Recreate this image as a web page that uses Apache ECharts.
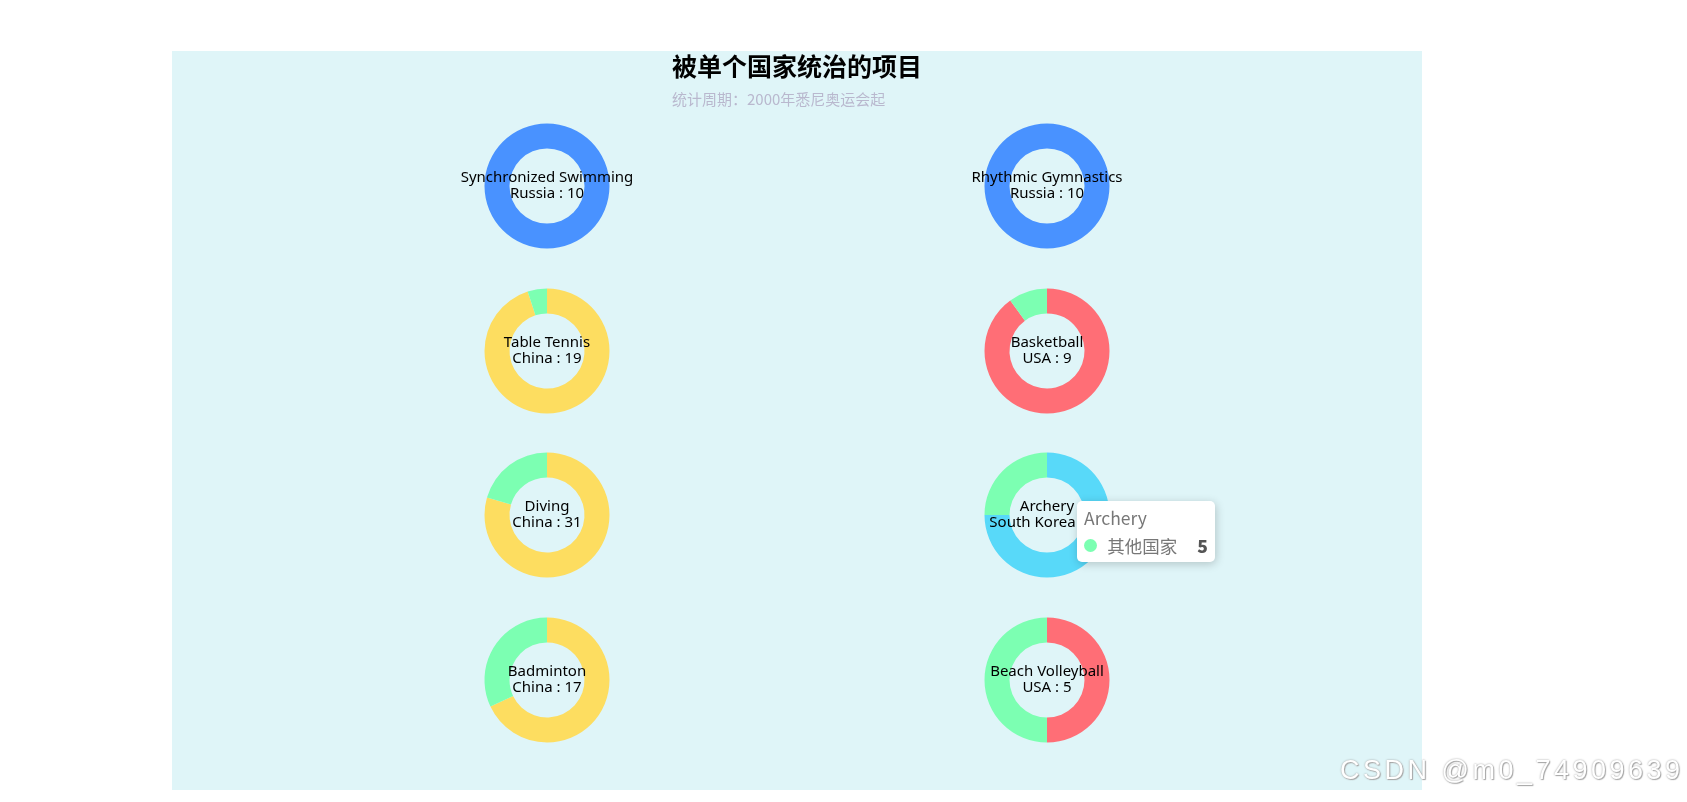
<!DOCTYPE html>
<html>
<head>
<meta charset="utf-8">
<title>被单个国家统治的项目</title>
<script src="https://cdn.jsdelivr.net/npm/echarts@6/dist/echarts.min.js"></script>
<style>
    body { margin: 0; background: #fff; }
    #main { position: absolute; left: 172px; top: 51px; width: 1250px; height: 739px; }
    .watermark {
        position: absolute; left: 1340px; top: 755px;
        font-family: 'Liberation Sans', Arial, sans-serif; font-size: 27px; letter-spacing: 3.5px;
        color: #fff; text-shadow: 0 0 2px #999, 1px 1px 1px #aaa;
        white-space: nowrap;
    }
</style>
</head>
<body>
<div id="main"></div>
<div class="watermark">CSDN @m0_74909639</div>
<script>
// 项目 / 统治国家 / 奖牌数
const sports = ['Synchronized Swimming', 'Rhythmic Gymnastics', 'Table Tennis', 'Basketball',
    'Diving', 'Archery', 'Badminton', 'Beach Volleyball'];
const countries = ['Russia', 'Russia', 'China', 'USA', 'China', 'South Korea', 'China', 'USA'];
const countryMedals = [10, 10, 19, 9, 31, 15, 17, 5];
const otherMedals = [0, 0, 1, 1, 8, 5, 8, 5];
const otherName = '其他国家';

const palette = ['#4992ff', '#7cffb2', '#fddd60', '#ff6e76', '#58d9f9'];

// 两列四行的圆环位置
const colX = [375, 875];
const rowY = [135, 300, 464, 629];

const chart = echarts.init(document.getElementById('main'));

function tooltipHtml(p) {
    const font = "font-size:17.5px;color:#777;line-height:1;";
    return `<div style="${font}">${p.seriesName}</div>
        <div style="margin-top:10px;line-height:1;">
            <span style="display:inline-block;vertical-align:middle;margin-right:5px;border-radius:50%;width:13px;height:13px;background-color:${p.color};"></span>
            <span style="${font}margin-left:2px;vertical-align:middle;">${p.name}</span>
            <span style="float:right;margin-left:20px;font-size:17.5px;line-height:1;color:#555;font-weight:900;">${p.value}</span>
            <div style="clear:both"></div>
        </div>`;
}

const series = sports.map((sport, i) => ({
    name: sport,
    type: 'pie',
    center: [colX[i % 2], rowY[Math.floor(i / 2)]],
    radius: [37.5, 62.5],
    avoidLabelOverlap: false,
    label: { show: false },
    labelLine: { show: false },
    emphasis: { scale: false, label: { show: false } },
    data: [
        {
            name: countries[i],
            value: countryMedals[i],
            label: {
                show: true,
                position: 'center',
                formatter: '{a}\n{b} : {c}',
                color: '#000',
                fontSize: 15,
                lineHeight: 16,
                padding: [0, 0, 3, 0],
                fontFamily: 'Noto Sans'
            },
            emphasis: { label: { show: true } }
        },
        { name: otherName, value: otherMedals[i] }
    ]
}));

chart.setOption({
    animation: false,
    backgroundColor: '#dff5f8',
    color: palette,
    title: {
        text: '被单个国家统治的项目',
        subtext: '统计周期：2000年悉尼奥运会起',
        left: 494,
        top: 1,
        padding: [2, 6],
        itemGap: 13,
        textStyle: { fontSize: 25, fontWeight: 'bold', color: '#000', fontFamily: 'Noto Sans CJK SC' },
        subtextStyle: { fontSize: 15, color: '#B9B8CE', fontFamily: 'Noto Sans CJK SC' }
    },
    tooltip: {
        trigger: 'item',
        alwaysShowContent: true,
        transitionDuration: 0,
        position: [905, 450],
        padding: [8, 7],
        backgroundColor: '#fff',
        borderWidth: 0,
        extraCssText: "border-radius:5px;box-shadow:1px 2px 10px rgba(0,0,0,0.2);font-family:'Noto Sans CJK SC',sans-serif;",
        formatter: tooltipHtml
    },
    series: series
});

// 复现截图中悬停在 Archery “其他国家” 上的提示框
chart.dispatchAction({ type: 'showTip', seriesIndex: 5, dataIndex: 1, position: [905, 450] });
</script>
</body>
</html>
